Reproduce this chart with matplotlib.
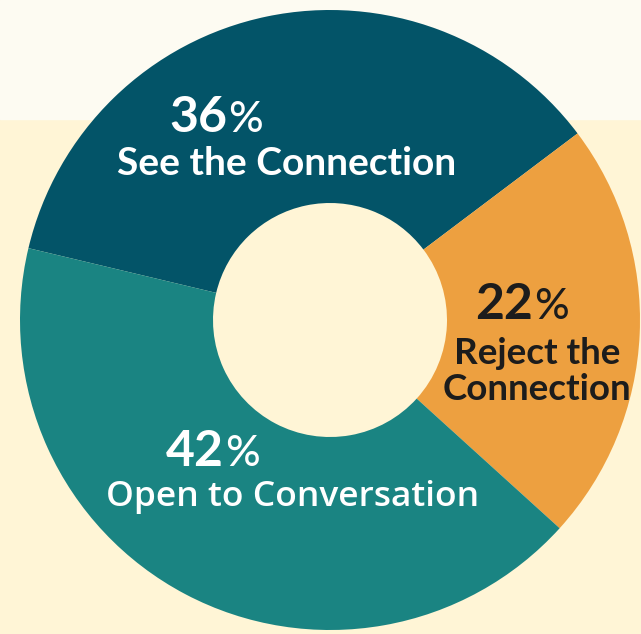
import matplotlib
matplotlib.use('Agg')

import matplotlib.pyplot as plt
from matplotlib.patches import Rectangle

# survey split, drawn clockwise from the upper left
labels = ['See the Connection', 'Reject the\nConnection', 'Open to Conversation']
shares = [36, 22, 42]
colors = ['#035468', '#eda040', '#1a8482']
text_colors = ['white', '#1c1c1c', 'white']
label_fonts = ['Lato', 'Lato', 'Open Sans']
label_weights = ['bold', 'bold', 'semibold']
label_sizes = [28, 26.5, 25.5]

# pixel layout (y measured from the top of the image)
W, H = 641, 634
cx, cy = 330, 320
r_out, r_in = 310, 117
num_pos = [(227, 132), (533, 319), (224, 466)]   # split between digits and '%', baseline
lab_pos = [(287, 175), (537, 400), (293, 506)]   # centre x, baseline of last line

fig = plt.figure(figsize=(W / 100, H / 100), dpi=100)
fig.patch.set_facecolor('#fff5d6')
ax = fig.add_axes([0, 0, 1, 1])

# lighter band across the top
ax.add_patch(Rectangle((0, H - 119), W, 119, color='#fdfbf2', zorder=0))

start = 37 + shares[0] * 3.6
ax.pie(shares, colors=colors, startangle=start, counterclock=False,
       center=(cx, H - cy), radius=r_out,
       wedgeprops=dict(width=r_out - r_in, linewidth=0), frame=True)

for i, share in enumerate(shares):
    x, y = num_pos[i]
    ax.text(x, H - y, f'{share}', color=text_colors[i], fontsize=36,
            family='Lato', weight='bold', ha='right', va='baseline', zorder=5)
    ax.text(x + 1, H - y, '%', color=text_colors[i], fontsize=31,
            family='Lato', weight='medium', ha='left', va='baseline', zorder=5)
    x, y = lab_pos[i]
    ax.text(x, H - y, labels[i], color=text_colors[i], fontsize=label_sizes[i],
            family=label_fonts[i], weight=label_weights[i], ha='center',
            va='baseline', linespacing=1.12, zorder=5)

ax.set_xlim(0, W)
ax.set_ylim(0, H)
ax.set_aspect('equal')
ax.axis('off')

plt.savefig('out.png', dpi=100)
plt.close()
